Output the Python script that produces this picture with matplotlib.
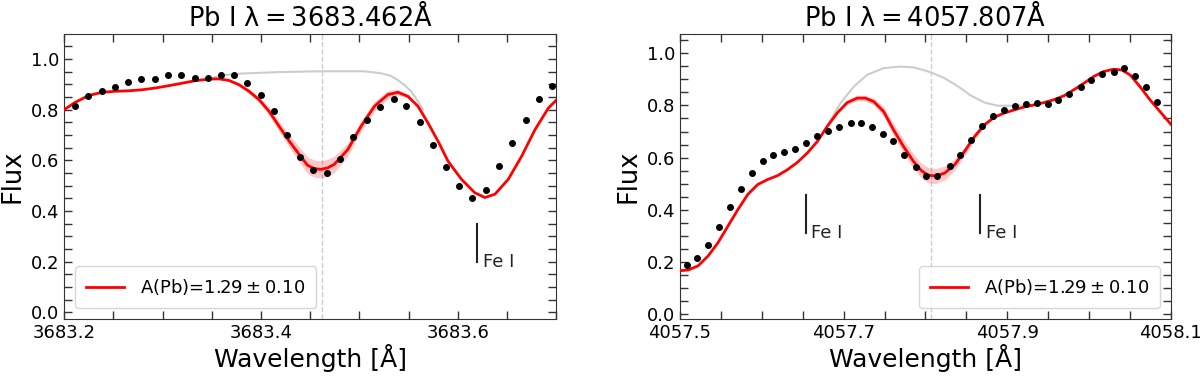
import numpy as np
import matplotlib
matplotlib.use("Agg")
import matplotlib.pyplot as plt
from matplotlib.ticker import FixedLocator, FormatStrFormatter, MultipleLocator

# ---------------- Data: left panel (Pb I 3683.462) ----------------
obs1_wl = [3683.2109, 3683.2245, 3683.2382, 3683.2517, 3683.2647, 3683.2783, 3683.2918,
           3683.3055, 3683.3191, 3683.3327, 3683.3459, 3683.3592, 3683.3729, 3683.3861,
           3683.3997, 3683.4133, 3683.4267, 3683.4400, 3683.4531, 3683.4667, 3683.4803,
           3683.4939, 3683.5076, 3683.5211, 3683.5347, 3683.5477, 3683.5612, 3683.5749,
           3683.5878, 3683.6014, 3683.6150, 3683.6286, 3683.6422, 3683.6555, 3683.6691,
           3683.6827, 3683.6963]
obs1_flux = [0.815, 0.852, 0.874, 0.887, 0.908, 0.919, 0.919, 0.936, 0.936, 0.925, 0.925,
             0.936, 0.936, 0.904, 0.857, 0.796, 0.701, 0.612, 0.561, 0.551, 0.603, 0.691,
             0.758, 0.809, 0.840, 0.815, 0.752, 0.659, 0.572, 0.500, 0.451, 0.483, 0.577,
             0.670, 0.759, 0.842, 0.894]

fit1_wl = [3683.2000, 3683.2109, 3683.2245, 3683.2382, 3683.2517, 3683.2653, 3683.2790,
           3683.2926, 3683.3061, 3683.3198, 3683.3334, 3683.3469, 3683.3571, 3683.3673,
           3683.3776, 3683.3878, 3683.3980, 3683.4082, 3683.4184, 3683.4286, 3683.4388,
           3683.4473, 3683.4541, 3683.4609, 3683.4677, 3683.4745, 3683.4882, 3683.5017,
           3683.5153, 3683.5290, 3683.5392, 3683.5494, 3683.5596, 3683.5698, 3683.5800,
           3683.5902, 3683.6038, 3683.6173, 3683.6276, 3683.6378, 3683.6514, 3683.6650,
           3683.6786, 3683.6922, 3683.7000]
fit1_flux = [0.800, 0.828, 0.855, 0.868, 0.872, 0.874, 0.878, 0.885, 0.894, 0.904, 0.914,
             0.920, 0.921, 0.915, 0.898, 0.872, 0.839, 0.793, 0.734, 0.676, 0.623, 0.580,
             0.567, 0.564, 0.570, 0.584, 0.642, 0.734, 0.813, 0.859, 0.868, 0.852, 0.813,
             0.747, 0.675, 0.596, 0.525, 0.472, 0.453, 0.466, 0.525, 0.616, 0.721, 0.806,
             0.836]
fit1_err = [0.0, 0.0, 0.0, 0.0, 0.0, 0.0, 0.0, 0.0, 0.0, 0.0, 0.0, 0.0, 0.001, 0.003,
            0.006, 0.009, 0.012, 0.016, 0.020, 0.025, 0.030, 0.033, 0.034, 0.034, 0.034,
            0.032, 0.026, 0.021, 0.019, 0.016, 0.012, 0.006, 0.002, 0.0, 0.0, 0.0, 0.0,
            0.0, 0.0, 0.0, 0.0, 0.0, 0.0, 0.0, 0.0]

nopb1_wl = [3683.3469, 3683.3530, 3683.3606, 3683.3800, 3683.4201, 3683.4609, 3683.5051,
            3683.5221, 3683.5320, 3683.5392, 3683.5460, 3683.5528, 3683.5596, 3683.5647]
nopb1_flux = [0.920, 0.928, 0.935, 0.942, 0.948, 0.951, 0.951, 0.943, 0.933, 0.916, 0.896,
              0.871, 0.832, 0.800]

# ---------------- Data: right panel (Pb I 4057.807) ----------------
obs2_wl = [4057.5081, 4057.5210, 4057.5336, 4057.5477, 4057.5611, 4057.5740, 4057.5878,
           4057.6011, 4057.6141, 4057.6274, 4057.6408, 4057.6537, 4057.6679, 4057.6812,
           4057.6942, 4057.7084, 4057.7213, 4057.7346, 4057.7480, 4057.7609, 4057.7739,
           4057.7885, 4057.8005, 4057.8146, 4057.8296, 4057.8417, 4057.8551, 4057.8692,
           4057.8822, 4057.8955, 4057.9097, 4057.9226, 4057.9359, 4057.9501, 4057.9623,
           4057.9756, 4057.9898, 4058.0027, 4058.0160, 4058.0302, 4058.0432, 4058.0561,
           4058.0699, 4058.0828]
obs2_flux = [0.188, 0.213, 0.264, 0.334, 0.410, 0.480, 0.541, 0.586, 0.608, 0.622, 0.633,
             0.656, 0.681, 0.703, 0.717, 0.732, 0.732, 0.717, 0.692, 0.662, 0.611, 0.564,
             0.531, 0.531, 0.567, 0.611, 0.669, 0.723, 0.758, 0.783, 0.799, 0.805, 0.810,
             0.807, 0.819, 0.843, 0.870, 0.898, 0.920, 0.929, 0.943, 0.913, 0.869, 0.815]

fit2_wl = [4057.5000, 4057.5101, 4057.5222, 4057.5344, 4057.5465, 4057.5587, 4057.5708,
           4057.5829, 4057.5951, 4057.6072, 4057.6193, 4057.6315, 4057.6436, 4057.6557,
           4057.6679, 4057.6800, 4057.6921, 4057.7043, 4057.7164, 4057.7265, 4057.7367,
           4057.7488, 4057.7609, 4057.7731, 4057.7852, 4057.7950, 4057.8030, 4057.8126,
           4057.8237, 4057.8358, 4057.8479, 4057.8601, 4057.8722, 4057.8843, 4057.8965,
           4057.9086, 4057.9208, 4057.9329, 4057.9450, 4057.9572, 4057.9693, 4057.9814,
           4057.9936, 4058.0057, 4058.0178, 4058.0300, 4058.0400, 4058.0502, 4058.0623,
           4058.0744, 4058.0866, 4058.1000]
fit2_flux = [0.166, 0.169, 0.185, 0.223, 0.274, 0.338, 0.401, 0.459, 0.497, 0.516, 0.531,
             0.554, 0.582, 0.618, 0.662, 0.720, 0.771, 0.811, 0.828, 0.828, 0.815, 0.777,
             0.707, 0.643, 0.586, 0.550, 0.533, 0.529, 0.541, 0.573, 0.624, 0.681, 0.726,
             0.755, 0.771, 0.783, 0.794, 0.802, 0.811, 0.822, 0.837, 0.860, 0.885, 0.911,
             0.930, 0.939, 0.936, 0.917, 0.872, 0.822, 0.777, 0.728]
fit2_err = [0.0, 0.0, 0.0, 0.0, 0.0, 0.0, 0.0, 0.0, 0.0, 0.0, 0.0, 0.0, 0.0, 0.0, 0.0,
            0.002, 0.005, 0.008, 0.010, 0.011, 0.013, 0.018, 0.023, 0.026, 0.028, 0.029,
            0.029, 0.029, 0.027, 0.022, 0.017, 0.012, 0.007, 0.003, 0.001, 0.0, 0.0, 0.0,
            0.0, 0.0, 0.0, 0.0, 0.0, 0.0, 0.0, 0.0, 0.0, 0.0, 0.0, 0.0, 0.0, 0.0]

nopb2_wl = [4057.6800, 4057.6841, 4057.6962, 4057.7124, 4057.7285, 4057.7488, 4057.7690,
            4057.7852, 4057.7973, 4057.8074, 4057.8237, 4057.8398, 4057.8560, 4057.8722,
            4057.8883, 4057.9045, 4057.9208, 4057.9329]
nopb2_flux = [0.720, 0.745, 0.809, 0.872, 0.917, 0.943, 0.949, 0.946, 0.936, 0.926, 0.904,
              0.873, 0.837, 0.811, 0.799, 0.799, 0.800, 0.802]

lines_pb = [3683.462, 4057.807]
fe1_left = [3683.620]
fe1_right = [4057.6535, 4057.8670]
xticks_left = [3683.2, 3683.4, 3683.6]
xticks_right = [4057.5, 4057.7, 4057.9, 4058.1]
titles = ['Pb I λ$=$3683.462Å', 'Pb I λ$=$4057.807Å']
legend_label = r'A(Pb)=$1.29\pm0.10$'

plt.rcParams['mathtext.default'] = 'regular'

fig = plt.figure(figsize=(12, 3.82), dpi=100)
ax1 = fig.add_axes([0.0536, 0.165, 0.4098, 0.746])
ax2 = fig.add_axes([0.5667, 0.165, 0.4090, 0.746])


def draw(ax, owl, ofl, fwl, ffl, ferr, nwl, nfl, pbl, fes, fe_y0, fe_y1, title, xlim, ylim,
         xticks, loc):
    fwl = np.array(fwl); ffl = np.array(ffl); ferr = np.array(ferr)
    ax.plot(nwl, nfl, color='#cccccc', lw=1.5, zorder=1)
    ax.fill_between(fwl, ffl - ferr, ffl + ferr, color='red', alpha=0.22, lw=0, zorder=2)
    ax.plot(fwl, ffl, color='red', lw=2, zorder=3, label=legend_label)
    ax.plot(owl, ofl, 'o', color='black', ms=4, zorder=4)
    ax.axvline(pbl, color='#cccccc', ls='--', lw=1, zorder=0)
    for f in fes:
        ax.plot([f, f], [fe_y0, fe_y1], color='#222222', lw=1.5)
        ax.annotate('Fe I', xy=(f, fe_y0), xytext=(4, 0), textcoords='offset points',
                    fontsize=13, ha='left', va='center', color='#222222')
    ax.set_title(title, fontsize=18.5, pad=6)
    ax.set_xlim(*xlim)
    ax.set_ylim(*ylim)
    ax.set_xlabel('Wavelength [Å]', fontsize=18, labelpad=1.5)
    ax.set_ylabel('Flux', fontsize=18.5, labelpad=4)
    ax.xaxis.set_major_locator(FixedLocator(xticks))
    ax.xaxis.set_major_formatter(FormatStrFormatter('%.1f'))
    ax.xaxis.set_minor_locator(MultipleLocator(0.05))
    ax.yaxis.set_major_locator(MultipleLocator(0.2))
    ax.yaxis.set_minor_locator(MultipleLocator(0.05))
    ax.tick_params(which='both', direction='in', top=True, right=True, labelsize=13,
                   color='#333333')
    ax.tick_params(which='both', length=6, width=1)
    for s in ax.spines.values():
        s.set_color('#333333')
    ax.legend(loc=loc, fontsize=13, handlelength=2.1, handletextpad=0.9,
              borderpad=0.6, borderaxespad=0.6)


draw(ax1, obs1_wl, obs1_flux, fit1_wl, fit1_flux, fit1_err, nopb1_wl, nopb1_flux,
     lines_pb[0], fe1_left, 0.20, 0.35, titles[0], (3683.2, 3683.7), (-0.026, 1.098),
     xticks_left, 'lower left')
draw(ax2, obs2_wl, obs2_flux, fit2_wl, fit2_flux, fit2_err, nopb2_wl, nopb2_flux,
     lines_pb[1], fe1_right, 0.309, 0.456, titles[1], (4057.5, 4058.1), (-0.019, 1.074),
     xticks_right, 'lower right')

fig.savefig('out.png', dpi=100)
